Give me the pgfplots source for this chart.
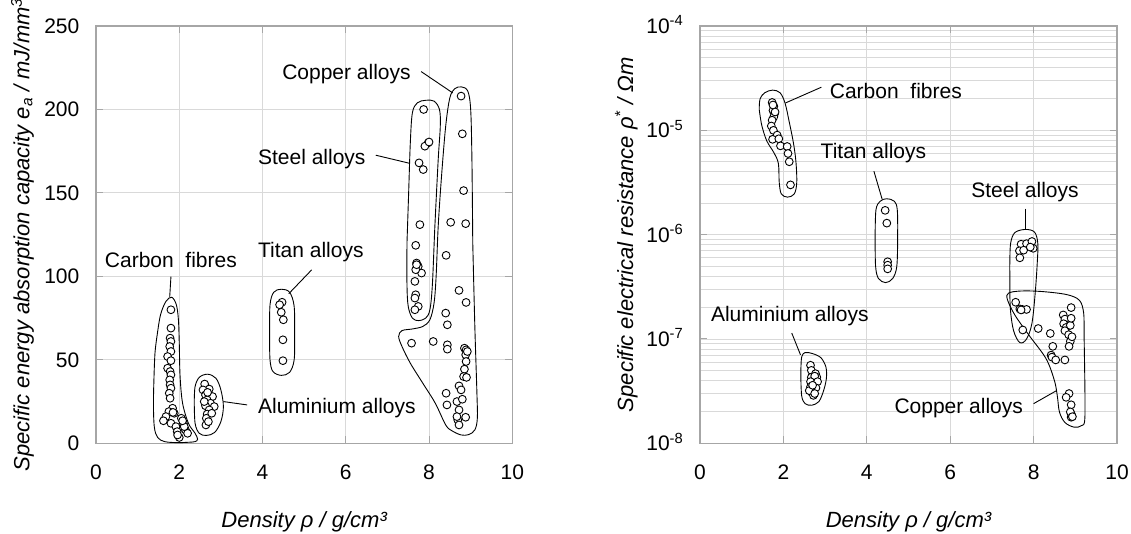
\documentclass[border=0pt]{standalone}
\usepackage{fontspec}
\setmainfont{Liberation Sans}
\usepackage{pgfplots}
\pgfplotsset{compat=1.18}
\definecolor{gridc}{RGB}{217,217,217}
\definecolor{framec}{RGB}{166,166,166}
\pgfplotsset{
 myax/.style={
  scale only axis, height=417.3pt,
  xmin=0, xmax=10, xtick={0,2,4,6,8,10},
  xmajorgrids=true, ymajorgrids=true,
  major grid style={gridc, line width=0.9pt},
  axis line style={framec, line width=1.2pt},
  tick style={framec, line width=1pt},
  tick align=inside, major tick length=7pt,
  ticklabel style={font=\fontsize{21}{25}\selectfont, inner sep=0pt},
  /pgf/number format/assume math mode=true,
  x tick label style={anchor=base, yshift=-35.7pt},
  y tick label style={anchor=base east, xshift=-16.5pt, yshift=-7.5pt},
  label style={font=\itshape\fontsize{22}{26}\selectfont},
  xlabel style={at={(axis description cs:0.5,-0.2013)}, anchor=base},
  ylabel style={at={(axis description cs:-0.1766,0.5)}, anchor=center},
  xlabel={Density ρ / g/cm³},
  clip=false,
 },
 pts/.style={only marks, mark=*, mark size=3.9pt, mark options={fill=white, draw=black, line width=0.9pt}},
 hull/.style={black, line width=0.9pt, smooth, tension=0.55, mark=none},
 lead/.style={black, line width=0.9pt, mark=none},
}
\newcommand{\ann}{\fontsize{21}{25}\selectfont}
\begin{document}
\begin{tikzpicture}
\useasboundingbox (0,0) rectangle (1131pt,533pt);
% ---------------- left ----------------
\begin{axis}[myax, at={(96pt,89.7pt)}, anchor=south west, width=416.3pt,
  ymin=0, ymax=250, ytick={0,50,100,150,200,250},
  ylabel={Specific energy absorption capacity e\textsubscript{a} / mJ/mm\textsuperscript{3}}]
% hulls
\addplot[hull] coordinates {(1.40,45)(1.38,25)(1.40,10)(1.48,3.5)(1.65,1.0)(1.95,0.4)(2.2,0.6)(2.38,1.0)(2.44,2.5)(2.38,6)(2.22,12)(2.08,24)(2.02,40)(2.0,60)(1.98,74)(1.93,83)(1.82,87.5)(1.68,85)(1.55,77)(1.47,65)(1.42,55)(1.40,45)};
\addplot[hull] coordinates {(2.36,25)(2.38,12)(2.48,6)(2.65,4.7)(2.85,6.5)(3.0,13)(3.06,22)(3.0,32)(2.88,39)(2.68,41.4)(2.48,39.5)(2.38,34)(2.36,25)};
\addplot[hull] coordinates {(4.17,65)(4.18,50)(4.25,43)(4.45,40.7)(4.65,42.5)(4.76,50)(4.77,65)(4.76,82)(4.65,90.5)(4.45,92.3)(4.27,90.5)(4.18,83)(4.17,65)};
\addplot[hull] coordinates {(7.47,120)(7.47,95)(7.50,82)(7.60,75)(7.75,73.5)(7.92,75)(8.02,80)(8.08,95)(8.14,130)(8.22,170)(8.27,190)(8.25,200)(8.12,205)(7.92,205.5)(7.72,204)(7.60,198)(7.55,180)(7.51,150)(7.47,120)};
\addplot[hull] coordinates {(9.05,120)(9.10,70)(9.15,30)(9.16,15)(9.10,8)(8.95,5.2)(8.77,5)(8.55,7.5)(8.40,11)(8.15,24)(7.85,36)(7.55,48)(7.35,58)(7.27,64)(7.35,67.5)(7.60,68.5)(7.85,70)(8.02,74)(8.12,84)(8.17,100)(8.22,130)(8.30,160)(8.40,190)(8.50,207)(8.62,212.5)(8.78,213.5)(8.93,211)(9.00,200)(9.03,170)(9.05,120)};
% leaders
\addplot[lead] coordinates {(7.81,222.7)(8.57,209.9)};
\addplot[lead] coordinates {(6.72,172.6)(7.54,167.7)};
\addplot[lead] coordinates {(5.18,103.9)(4.63,89.6)};
\addplot[lead] coordinates {(1.80,99.8)(1.77,87.5)};
\addplot[lead] coordinates {(3.63,23)(3.06,25)};
% data
\addplot[pts] coordinates {(1.80,80)(1.80,69)(1.78,63)(1.80,61)(1.77,58)(1.80,55)(1.72,52)(1.80,49.5)(1.72,45)(1.78,43)(1.80,41)(1.77,38)(1.78,35)(1.80,33)(1.76,30)(1.78,27)(1.84,21)(1.75,19)(1.68,16)(1.62,13.5)(1.88,18)(1.80,12)(1.92,10)(2.05,15)(2.10,12)(2.15,8)(1.95,7)(2.0,3.5)(2.2,6)(2.12,10)(1.85,18.5)(2.08,13.5)(1.96,5)};
\addplot[pts] coordinates {(2.61,35.5)(2.72,32.5)(2.57,32)(2.63,29)(2.80,28)(2.67,26)(2.75,24)(2.84,22)(2.63,22.5)(2.72,20)(2.67,17.5)(2.65,15)(2.64,11)(2.78,18)(2.60,25)(2.70,13)(2.68,30.5)};
\addplot[pts] coordinates {(4.47,84.5)(4.41,83)(4.45,78.5)(4.50,74)(4.49,62)(4.49,49.5)};
\addplot[pts] coordinates {(7.87,200)(7.98,180)(7.90,178)(7.76,168)(7.86,164)(7.78,131)(7.68,118.6)(7.70,108)(7.74,106)(7.82,102)(7.68,104)(7.66,97)(7.68,89)(7.66,87)(7.74,82)(7.66,80)(7.70,107)(8.0,180.5)};
\addplot[pts] coordinates {(8.77,208)(8.80,185.4)(8.83,151.4)(8.88,131.6)(8.52,132.4)(8.41,112.6)(8.72,91.6)(8.89,84.4)(8.40,78)(8.44,71)(7.58,60)(8.10,61)(8.44,59)(8.44,56.4)(8.85,57)(8.89,56)(8.88,53)(8.89,49)(8.85,44.4)(8.83,40)(8.72,34.4)(8.77,32)(8.41,30)(8.67,25)(8.80,26.4)(8.43,23)(8.72,20)(8.88,15.6)(8.69,14)(8.72,11)(8.67,16)(8.90,39.5)(8.92,55)};
% labels
\node[anchor=west, inner sep=0pt, font=\ann] at (axis cs:4.47,221) {Copper\ alloys};
\node[anchor=west, inner sep=0pt, font=\ann] at (axis cs:3.89,170.5) {Steel alloys};
\node[anchor=west, inner sep=0pt, font=\ann] at (axis cs:3.89,114.7) {Titan alloys};
\node[anchor=west, inner sep=0pt, font=\ann] at (axis cs:0.21,110) {Carbon\ \ fibres};
\node[anchor=west, inner sep=0pt, font=\ann] at (axis cs:3.89,21.4) {Aluminium alloys};
\end{axis}
% ---------------- right ----------------
\begin{axis}[myax, at={(700pt,89.7pt)}, anchor=south west, width=417pt,
  ymode=log, ymin=1e-8, ymax=1e-4,
  ytick={1e-8,1e-7,1e-6,1e-5,1e-4},
  yticklabels={10\textsuperscript{-8},10\textsuperscript{-7},10\textsuperscript{-6},10\textsuperscript{-5},10\textsuperscript{-4}},
  yminorgrids=true, minor grid style={gridc, line width=0.9pt}, minor tick length=0pt,
  ylabel={Specific electrical resistance ρ\textsuperscript{*} / Ωm}]
% hulls
\addplot[hull] coordinates {(1.42,1.585e-5)(1.48,1.122e-5)(1.60,7.94e-6)(1.78,6.03e-6)(1.88,4.79e-6)(1.90,3.16e-6)(1.95,2.455e-6)(2.10,2.29e-6)(2.26,2.455e-6)(2.32,3.16e-6)(2.30,5.01e-6)(2.24,7.59e-6)(2.14,1.202e-5)(2.04,1.82e-5)(1.92,2.29e-5)(1.74,2.43e-5)(1.55,2.29e-5)(1.44,2.0e-5)(1.42,1.585e-5)};
\addplot[hull] coordinates {(4.20,1e-6)(4.21,5.01e-7)(4.28,3.80e-7)(4.45,3.47e-7)(4.62,3.80e-7)(4.72,5.01e-7)(4.74,1e-6)(4.73,1.738e-6)(4.66,2.09e-6)(4.48,2.21e-6)(4.32,2.09e-6)(4.22,1.738e-6)(4.20,1e-6)};
\addplot[hull] coordinates {(7.43,3.98e-7)(7.44,2.0e-7)(7.52,1.202e-7)(7.67,9.23e-8)(7.83,1e-7)(7.96,1.413e-7)(8.04,2.82e-7)(8.09,5.62e-7)(8.10,8.32e-7)(8.02,1.06e-6)(7.80,1.122e-6)(7.55,1.047e-6)(7.45,8.32e-7)(7.43,5.62e-7)(7.43,3.98e-7)};
\addplot[hull] coordinates {(9.22,6.31e-8)(9.23,1.778e-8)(9.15,1.479e-8)(8.97,1.429e-8)(8.75,1.585e-8)(8.62,1.995e-8)(8.57,2.818e-8)(8.50,3.98e-8)(8.30,6.46e-8)(7.90,1.072e-7)(7.55,1.698e-7)(7.37,2.40e-7)(7.40,2.754e-7)(7.70,2.884e-7)(8.20,2.851e-7)(8.80,2.661e-7)(9.10,2.344e-7)(9.20,1.778e-7)(9.21,1.122e-7)(9.22,6.31e-8)};
\addplot[hull] coordinates {(2.42,3.98e-8)(2.44,2.818e-8)(2.52,2.399e-8)(2.68,2.317e-8)(2.85,2.512e-8)(2.96,3.162e-8)(3.03,4.169e-8)(3.02,5.37e-8)(2.90,6.607e-8)(2.70,7.244e-8)(2.52,7.413e-8)(2.44,6.761e-8)(2.42,5.248e-8)(2.42,3.98e-8)};
% leaders
\addplot[lead] coordinates {(2.91,2.59e-5)(2.05,1.83e-5)};
\addplot[lead] coordinates {(4.17,4.06e-6)(4.37,2.17e-6)};
\addplot[lead] coordinates {(7.81,1.78e-6)(7.81,1.12e-6)};
\addplot[lead] coordinates {(2.20,1.14e-7)(2.41,7.05e-8)};
\addplot[lead] coordinates {(8.00,2.40e-8)(8.55,3.2e-8)};
% data
\addplot[pts] coordinates {(1.73,1.85e-5)(1.77,1.7e-5)(1.75,1.55e-5)(1.79,1.45e-5)(1.77,1.35e-5)(1.73,1.25e-5)(1.71,1.1e-5)(1.76,1.0e-5)(1.85,9.0e-6)(1.74,8.2e-6)(1.89,8.3e-6)(1.93,7.1e-6)(2.09,7.0e-6)(2.11,6.0e-6)(2.14,5.0e-6)(2.17,3.0e-6)(1.80,1.5e-5)(1.75,1.75e-5)};
\addplot[pts] coordinates {(4.44,1.71e-6)(4.48,1.29e-6)(4.50,5.5e-7)(4.50,5.1e-7)(4.50,4.7e-7)};
\addplot[pts] coordinates {(7.70,8.1e-7)(7.83,8.2e-7)(7.66,7.0e-7)(7.76,7.1e-7)(7.67,6.0e-7)(7.96,8.6e-7)(7.99,7.4e-7)(7.92,7.6e-7)(7.57,2.25e-7)(7.67,1.94e-7)(7.73,1.92e-7)(7.83,1.92e-7)(7.74,1.22e-7)(7.70,1.9e-7)};
\addplot[pts] coordinates {(8.11,1.26e-7)(8.40,1.13e-7)(8.46,8.5e-8)(8.42,7.0e-8)(8.44,6.7e-8)(8.53,6.3e-8)(8.75,6.3e-8)(8.71,1.7e-7)(8.75,1.55e-7)(8.72,1.4e-7)(8.78,1.29e-7)(8.75,1.2e-7)(8.84,1.1e-7)(8.88,1.35e-7)(8.88,9.5e-8)(8.85,8.5e-8)(8.90,2.0e-7)(8.90,1.58e-7)(8.92,1.05e-7)(8.85,3.0e-8)(8.78,2.76e-8)(8.90,2.34e-8)(8.90,1.92e-8)(8.90,1.78e-8)(8.88,2.0e-8)(8.93,1.8e-8)};
\addplot[pts] coordinates {(2.65,5.6e-8)(2.67,5.0e-8)(2.77,4.65e-8)(2.67,4.3e-8)(2.80,4.3e-8)(2.75,4.4e-8)(2.65,3.9e-8)(2.82,3.9e-8)(2.65,3.47e-8)(2.72,3.35e-8)(2.78,3.4e-8)(2.67,3.1e-8)(2.72,2.88e-8)(2.62,3.2e-8)(2.75,3.0e-8)(2.70,3.6e-8)};
% labels
\node[anchor=west, inner sep=0pt, font=\ann] at (axis cs:3.11,2.40e-5) {Carbon\ \ fibres};
\node[anchor=west, inner sep=0pt, font=\ann] at (axis cs:2.89,6.0e-6) {Titan alloys};
\node[anchor=west, inner sep=0pt, font=\ann] at (axis cs:6.50,2.58e-6) {Steel alloys};
\node[anchor=west, inner sep=0pt, font=\ann] at (axis cs:0.26,1.67e-7) {Aluminium alloys};
\node[anchor=west, inner sep=0pt, font=\ann] at (axis cs:4.66,2.17e-8) {Copper alloys};
\end{axis}
\end{tikzpicture}
\end{document}
